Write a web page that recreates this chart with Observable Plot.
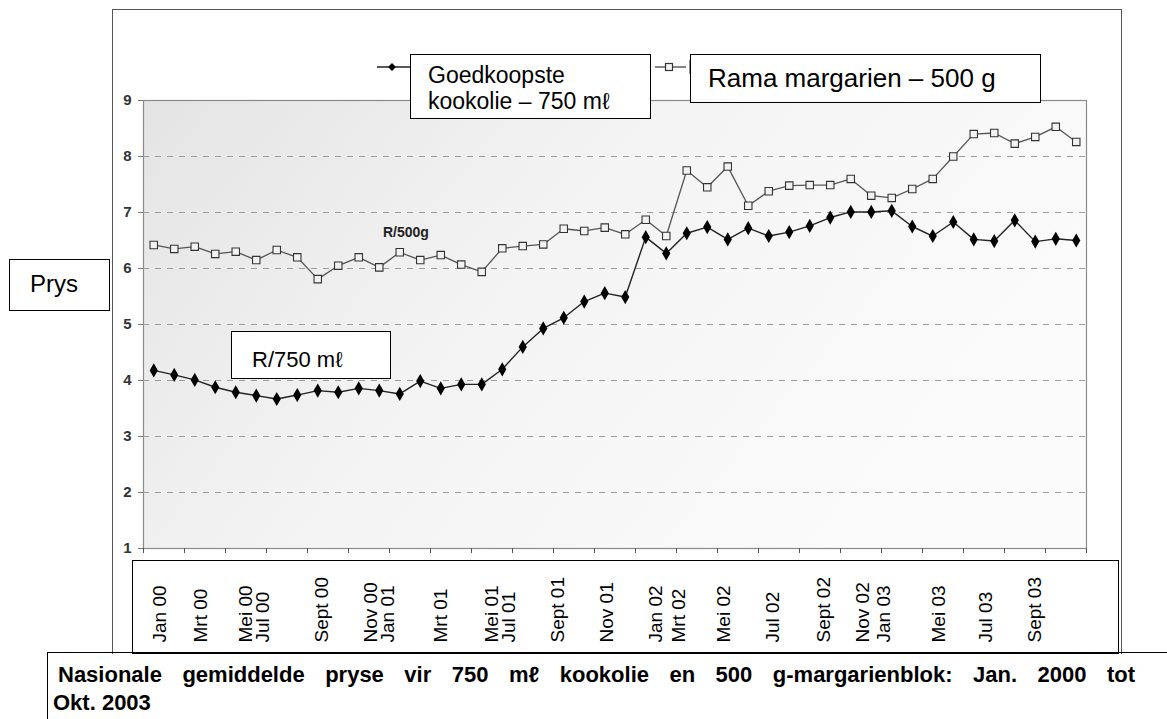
<!DOCTYPE html>
<html>
<head>
<meta charset="utf-8">
<script src="https://cdn.jsdelivr.net/npm/d3@7"></script>
<script src="https://cdn.jsdelivr.net/npm/@observablehq/plot@0.6"></script>
<style>
  body { margin: 0; background: #fff; font-family: "Liberation Sans", Arial, sans-serif; width: 1167px; height: 719px; overflow: hidden; position: relative; }
  .abs { position: absolute; box-sizing: border-box; }
  .box { position: absolute; box-sizing: border-box; background: #fff; border: 1.5px solid #000; color: #000; white-space: nowrap; }
  #chart { position: absolute; left: 0; top: 0; z-index: 1; }
  .over { z-index: 2; }
  .cap { position: absolute; font-weight: bold; font-size: 22px; line-height: 28px; white-space: nowrap; }
  .nb { display: inline-block; white-space: nowrap; }
</style>
</head>
<body>
<!-- outer chart frame -->
<div class="abs" style="left:112px;top:9px;width:1010px;height:645px;border:1.5px solid #555;border-bottom:none;"></div>
<!-- box holding the month labels -->
<div class="box" style="left:132px;top:560px;width:987px;height:94px;"></div>
<!-- caption frame lines -->
<div class="abs" style="left:47px;top:652px;width:1120px;height:80px;border-top:1.5px solid #000;border-left:1.5px solid #000;"></div>
<div class="cap" style="left:58px;top:661px;width:1077px;white-space:normal;text-align:justify;text-align-last:justify;">Nasionale gemiddelde pryse vir 750 <span class="nb">mℓ</span> kookolie en 500 g-margarienblok: Jan. 2000 tot</div>
<div class="cap" style="left:53px;top:689px;">Okt. 2003</div>

<div id="chart"></div>

<!-- legend markers -->
<svg class="abs over" style="left:370px;top:58px;" width="45" height="20">
  <line x1="7" y1="9" x2="40" y2="9" stroke="#222" stroke-width="1.3"/>
  <path d="M22,5 L26,9 L22,13 L18,9 Z" fill="#000"/>
</svg>
<svg class="abs over" style="left:650px;top:58px;" width="45" height="20">
  <line x1="5" y1="9" x2="36" y2="9" stroke="#444" stroke-width="1.3"/>
  <rect x="15.5" y="5.5" width="7" height="7" fill="#f4f4f4" stroke="#333" stroke-width="1.2"/>
  <line x1="40" y1="2" x2="40" y2="16" stroke="#444" stroke-width="1.2"/>
</svg>

<div class="box over" style="left:410px;top:54px;width:241px;height:65px;font-size:23px;line-height:26px;padding:7px 0 0 17px;">Goedkoopste<br>kookolie – 750 mℓ</div>
<div class="box over" style="left:690px;top:54px;width:351px;height:49px;font-size:26px;line-height:28px;padding:9px 0 0 17px;">Rama margarien – 500 g</div>
<div class="box over" style="left:9px;top:259px;width:101px;height:52px;font-size:24px;line-height:28px;padding:10px 0 0 20px;">Prys</div>
<div class="box over" style="left:231px;top:331px;width:160px;height:48px;font-size:22px;line-height:26px;padding:15px 0 0 20px;">R/750 mℓ</div>

<script>
// Monthly national average prices, Jan 2000 – Oct 2003 (46 months)
const oil = [4.18,4.10,4.01,3.88,3.79,3.73,3.67,3.74,3.82,3.79,
             3.86,3.82,3.76,3.99,3.86,3.93,3.93,4.20,4.60,4.93,
             5.12,5.41,5.56,5.49,6.56,6.27,6.63,6.74,6.52,6.72,
             6.58,6.65,6.76,6.91,7.01,7.01,7.03,6.75,6.58,6.83,
             6.52,6.49,6.86,6.48,6.53,6.50];
const margarine = [6.42,6.35,6.39,6.26,6.30,6.15,6.33,6.20,5.81,6.05,
                   6.20,6.02,6.29,6.15,6.24,6.07,5.94,6.36,6.40,6.43,
                   6.71,6.67,6.73,6.61,6.87,6.58,7.75,7.45,7.82,7.12,
                   7.38,7.48,7.49,7.49,7.60,7.30,7.26,7.42,7.60,8.00,
                   8.40,8.42,8.23,8.35,8.53,8.26];
const yTicks = [1,2,3,4,5,6,7,8,9];
const gridLines = [2,3,4,5,6,7,8];
const monthLabels = ["Jan 00","Mrt 00","Mei 00","Jul 00","Sept 00","Nov 00","Jan 01","Mrt 01","Mei 01","Jul 01",
                     "Sept 01","Nov 01","Jan 02","Mrt 02","Mei 02","Jul 02","Sept 02","Nov 02","Jan 03","Mei 03",
                     "Jul 03","Sept 03"];
// where each pasted label sits, in month positions
const monthLabelPos = [0.6,2.6,4.8,5.6,8.5,10.9,11.7,14.3,16.8,17.6,
                       20.0,22.4,24.8,25.9,28.1,30.5,33.0,34.9,35.9,38.6,
                       40.9,43.3];
const seriesNote = [{label:"R/500g", month:12.3, price:6.64}];

const idx = d3.range(oil.length);
const xTickPos = d3.range(-0.5, oil.length + 0.5, 2);

const plot = Plot.plot({
  width: 1167,
  height: 719,
  marginLeft: 143,
  marginRight: 81,
  marginTop: 100,
  marginBottom: 171,
  style: {background: "transparent", fontFamily: "'Liberation Sans', Arial, sans-serif", overflow: "visible"},
  x: {domain: [-0.5, oil.length - 0.5], axis: null},
  y: {domain: [1, 9], axis: null},
  marks: [
    Plot.frame({fill: "url(#bgGrad)", stroke: "#8a8a8a", strokeWidth: 1.2}),
    Plot.ruleY(gridLines, {stroke: "#9c9c9c", strokeWidth: 1, strokeDasharray: "6,6"}),
    Plot.axisY(yTicks, {tickSize: 5, tickPadding: 7, tickFormat: d3.format("d"), fontWeight: "bold", fontSize: 15, color: "#333", label: null, stroke: "#777"}),
    Plot.axisX(xTickPos, {tickSize: 5, tickFormat: () => "", label: null, stroke: "#555"}),
    Plot.line(idx, {x: i => i, y: i => margarine[i], stroke: "#555", strokeWidth: 1.3}),
    Plot.dot(idx, {x: i => i, y: i => margarine[i], symbol: "square", r: 4.2, stroke: "#333", strokeWidth: 1.1, fill: "#f2f2f2"}),
    Plot.line(idx, {x: i => i, y: i => oil[i], stroke: "#222", strokeWidth: 1.4}),
    Plot.dot(idx, {x: i => i, y: i => oil[i], symbol: "diamond", r: 4.3, fill: "#000", stroke: "none"}),
    Plot.text(seriesNote, {x: "month", y: "price", text: "label", fontWeight: "bold", fontSize: 14, fill: "#222"}),
    Plot.text(monthLabels, {x: (d, i) => monthLabelPos[i], frameAnchor: "bottom", dy: 94, rotate: -90, textAnchor: "start", fontSize: 19, fill: "#000"})
  ]
});

const defs = d3.select(plot).insert("defs", ":first-child");
const grad = defs.append("linearGradient").attr("id", "bgGrad")
  .attr("x1", "0").attr("y1", "0").attr("x2", "1").attr("y2", "0.4");
grad.append("stop").attr("offset", "0").attr("stop-color", "#e4e4e4");
grad.append("stop").attr("offset", "0.45").attr("stop-color", "#f3f3f3");
grad.append("stop").attr("offset", "1").attr("stop-color", "#fbfbfb");

document.getElementById("chart").appendChild(plot);
</script>
</body>
</html>
